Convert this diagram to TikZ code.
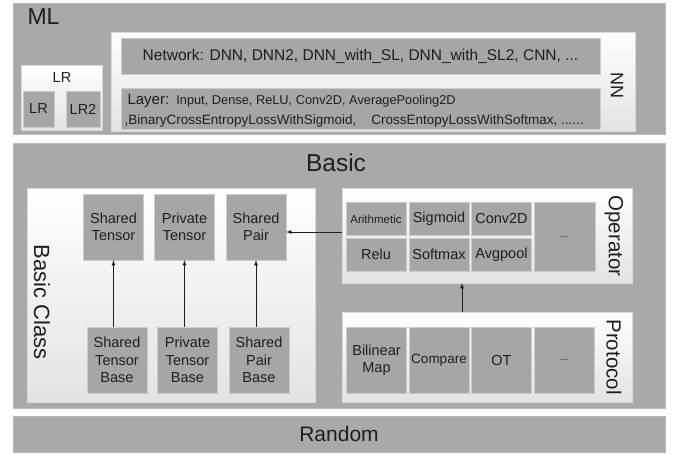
\documentclass[tikz,border=0pt]{standalone}
\usepackage{fontspec}
\setmainfont{Liberation Sans}
\usetikzlibrary{shadows}
\definecolor{layergray}{HTML}{A9A9A9}
\definecolor{cellgray}{HTML}{A6A6A6}
\definecolor{inkgray}{HTML}{1E1E1E}
\tikzset{
  layerbox/.style={draw=gray!55,fill=layergray,inner sep=0pt},
  groupbox/.style={draw=gray!30,top color=white,bottom color=gray!22,inner sep=0pt,
    drop shadow={shadow xshift=0.8pt,shadow yshift=-0.8pt,opacity=0.35}},
  cellbox/.style={draw=gray!40,fill=cellgray,inner sep=0pt,align=center,text=inkgray,
    font=\fontsize{14.5}{17.5}\selectfont,
    drop shadow={shadow xshift=0.8pt,shadow yshift=-0.8pt,opacity=0.4}},
  title/.style={text=inkgray,font=\fontsize{23}{27}\selectfont},
  sidetitle/.style={text=inkgray,rotate=-90,font=\fontsize{20.5}{24}\selectfont},
  link/.style={-latex,thick,inkgray}
}
\begin{document}
\begin{tikzpicture}[x=1pt,y=-1pt]
  \useasboundingbox (0,0) rectangle (676,453);
  % Layers
  \node (ml) [layerbox,minimum width=652pt,minimum height=131pt] at (339,68.5) {};
  \node (basic) [layerbox,minimum width=652pt,minimum height=265pt] at (339,275.5) {};
  \node (random) [layerbox,minimum width=652pt,minimum height=36pt,title,font=\fontsize{21}{25}\selectfont] at (339,434) {Random};
  \node (mltitle) [title,anchor=west] at (24,17) {ML};
  \node (basictitle) [title,font=\fontsize{24.5}{29}\selectfont] at (336,163) {Basic};

  % ML layer
  \node (lrbox) [groupbox,minimum width=81pt,minimum height=65pt] at (61.5,97.5) {};
  \node (lrtitle) [text=inkgray,font=\fontsize{14.5}{17}\selectfont] at (62,78) {LR};
  \node (lrone) [cellbox,minimum width=31pt,minimum height=36pt] at (38.5,109) {LR};
  \node (lrtwo) [cellbox,minimum width=34pt,minimum height=36pt] at (83,109) {LR2};
  \node (nn) [groupbox,minimum width=524pt,minimum height=99pt] at (373,81.5) {};
  \node (nntitle) [sidetitle,font=\fontsize{18}{21}\selectfont] at (617,85) {NN};
  \node (network) [cellbox,minimum width=479pt,minimum height=36pt,font=\fontsize{15.5}{18}\selectfont] at (360.5,56)
    {Network: DNN, DNN2, DNN\_with\_SL, DNN\_with\_SL2, CNN, ...};
  \node (layer) [cellbox,minimum width=479pt,minimum height=41pt] at (360.5,108.5) {};
  \node (layerone) [anchor=west,text=inkgray,font=\fontsize{12.8}{15}\selectfont] at (124,101)
    {{\fontsize{15}{17}\selectfont Layer:}\ \ Input, Dense, ReLU, Conv2D, AveragePooling2D};
  \node (layertwo) [anchor=west,text=inkgray,font=\fontsize{13.5}{16}\selectfont] at (121,121)
    {,BinaryCrossEntropyLossWithSigmoid,\ \ \ \ CrossEntopyLossWithSoftmax, ......};

  % Basic layer: Basic Class
  \node (bclass) [groupbox,minimum width=288pt,minimum height=214pt] at (171,295) {};
  \node (bclasstitle) [sidetitle,font=\fontsize{22}{26}\selectfont] at (42,302) {Basic Class};
  \foreach \name/\x/\txt in {stensor/113.5/Shared\\Tensor, ptensor/184.5/Private\\Tensor, spair/256/Shared\\Pair}
    \node (\name) [cellbox,minimum width=60pt,minimum height=66pt] at (\x,227) {\txt};
  \foreach \name/\x/\txt in {stbase/117/Shared\\Tensor\\Base, ptbase/187.5/Private\\Tensor\\Base, spbase/259/Shared\\Pair\\Base}
    \node (\name) [cellbox,minimum width=60pt,minimum height=66pt] at (\x,360) {\txt};
  \foreach \from/\to in {stbase/stensor, ptbase/ptensor, spbase/spair}
    \draw[link] (\to.south |- \from.north) -- (\to.south);

  % Basic layer: Operator
  \node (operator) [groupbox,minimum width=290pt,minimum height=95pt] at (487,235.5) {};
  \node (optitle) [sidetitle] at (614,236) {Operator};
  \foreach \name/\x/\y/\txt in {arith/376/219/{\fontsize{11.5}{13}\selectfont Arithmetic}, sigmoid/439/219/Sigmoid,
      convtwod/501.5/219/Conv2D, relu/376/254.5/Relu, softmax/439/254.5/Softmax, avgpool/501.5/254.5/Avgpool}
    \node (\name) [cellbox,minimum width=60pt,minimum height=33pt] at (\x,\y) {\txt};
  \node (opmore) [cellbox,minimum width=61pt,minimum height=69pt] at (564.5,236.5) {\fontsize{10}{12}\selectfont ...};

  % Basic layer: Protocol
  \node (protocol) [groupbox,minimum width=290pt,minimum height=90pt] at (487,357) {};
  \node (prtitle) [sidetitle] at (614,357) {Protocol};
  \foreach \name/\x/\txt in {bilinear/376.5/Bilinear\\Map, compare/439/{\fontsize{13.5}{16}\selectfont Compare},
      ot/501.5/OT, prmore/564.5/{\fontsize{10}{12}\selectfont ...}}
    \node (\name) [cellbox,minimum width=60pt,minimum height=66pt] at (\x,360) {\txt};

  % Connectors between the groups
  \draw[link] (operator.west |- 0,232) -- (spair.east |- 0,232);
  \draw[link] ([xshift=-25pt]protocol.north) -- ([xshift=-25pt]operator.south);
\end{tikzpicture}
\end{document}
